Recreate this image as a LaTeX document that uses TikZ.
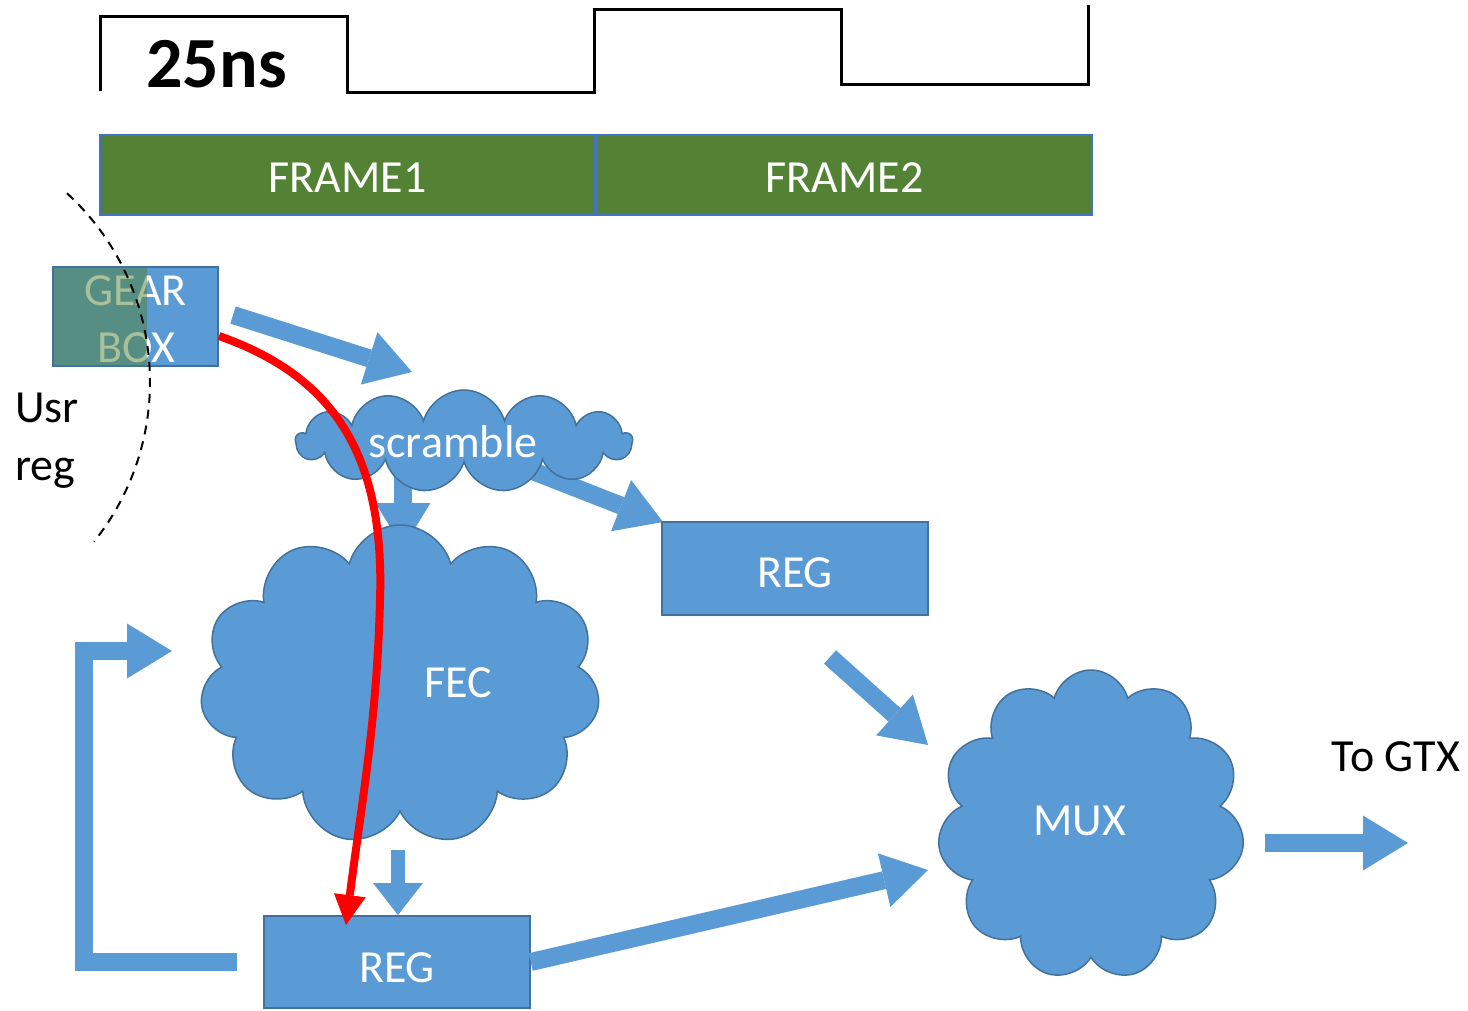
\documentclass[tikz,border=0pt]{standalone}
\usepackage{fontspec}
\setmainfont{Carlito}
\usetikzlibrary{arrows.meta,shapes.symbols}
\definecolor{blu}{HTML}{5B9BD5}
\definecolor{bdr}{HTML}{41719C}
\definecolor{grn}{HTML}{548235}
\definecolor{fbd}{HTML}{4472C4}
\tikzset{
  big/.style={font=\fontsize{46}{57}\selectfont},
  wtxt/.style={big, text=white, inner sep=0pt, anchor=base},
  btxt/.style={big, text=black, inner sep=0pt, anchor=base},
  framebox/.style={fill=grn, draw=fbd, line width=1.5pt, minimum height=80pt, minimum width=495pt, inner sep=0pt},
  regbox/.style={fill=blu, draw=bdr, line width=1.5pt, inner sep=0pt},
  cloudy/.style={cloud, fill=blu, draw=bdr, line width=1.5pt, inner sep=0pt},
  flow/.style={draw=blu, line width=18pt, -{Triangle[length=45pt,width=55pt,line width=0pt]}},
  clk/.style={draw=black, line width=3pt, line join=miter},
  redflow/.style={draw=red, line width=8pt, -{Triangle[length=30pt,width=32pt,line width=0pt]}},
}
\begin{document}
\begin{tikzpicture}[x=1pt,y=-1pt]
\useasboundingbox (0,0) rectangle (1468,1010);
% clock
\draw[clk] (100,91) -- (100,16) -- (347,16) -- (347,92) -- (594,92) -- (594,9) -- (841,9) -- (841,84) -- (1088,84) -- (1088,5);
\node[anchor=base, inner sep=0pt, font=\fontsize{72}{80}\selectfont\bfseries] (ns) at (216.5,87) {25ns};
% frames
\node[framebox] (fr1) at (347.5,175) {};
\node[framebox] (fr2) at (844.5,175) {};
\node[wtxt] (fr1t) at (347.5,192) {FRAME1};
\node[wtxt] (fr2t) at (844.5,192) {FRAME2};
% coordinates for arrows
\coordinate (a1s) at (233,315);
\coordinate (a1e) at (412,372);
\coordinate (a2s) at (403,470);
\coordinate (a2e) at (403,548);
\coordinate (a3s) at (530,470);
\coordinate (a3e) at (663,522);
\coordinate (a4s) at (830,657);
\coordinate (a4e) at (928,745);
\coordinate (a5s) at (398,850);
\coordinate (a5e) at (398,915);
\coordinate (a6e) at (928,870);
\coordinate (a7s) at (237,962);
\coordinate (a7a) at (84,962);
\coordinate (a7b) at (84,651);
\coordinate (a7e) at (172,651);
\coordinate (a8s) at (1265,843);
\coordinate (a8e) at (1408,843);
% flow arrows (behind clouds)
\draw[flow] (a1s) -- (a1e);
\draw[flow] (a2s) -- (a2e);
\draw[flow] (a3s) -- (a3e);
\draw[flow] (a4s) -- (a4e);
\draw[flow, line width=14pt, -{Triangle[length=32pt,width=50pt,line width=0pt]}] (a5s) -- (a5e);
\draw[flow, line join=miter] (a7s) -- (a7a) -- (a7b) -- (a7e);
\draw[flow] (a8s) -- (a8e);
% boxes
\node[regbox, minimum width=165pt, minimum height=99pt] (gb) at (135.5,316.5) {};
\node[wtxt] (gbt1) at (135.5,305) {GEAR};
\node[wtxt] (gbt2) at (136,362) {BOX};
\node[fill=grn, opacity=0.5, minimum width=94pt, minimum height=99pt, anchor=north west, inner sep=0pt] (ov) at (53,267) {};
\node[regbox, minimum width=266pt, minimum height=93pt] (reg1) at (795,568.5) {};
\node[wtxt] (reg1t) at (795,587) {REG};
\node[regbox, minimum width=266pt, minimum height=92pt] (reg2) at (397,962) {};
\node[wtxt] (reg2t) at (397,982) {REG};
\draw[flow] (reg2.east) -- (a6e);
% clouds
\node[cloudy, cloud puffs=13, aspect=3.3, minimum width=336pt, minimum height=102pt] (scr) at (464,441) {};
\node[wtxt] (scrt) at (453,457) {scramble};
\node[cloudy, cloud puffs=11, aspect=1.25, minimum width=400pt, minimum height=320pt] (fec) at (400,685) {};
\node[wtxt] (fect) at (458,697) {FEC};
\node[cloudy, cloud puffs=11, aspect=1, minimum width=307pt, minimum height=310pt] (mux) at (1091,825) {};
\node[wtxt] (muxt) at (1080,835) {MUX};
% texts
\node[btxt] (gtx) at (1396,771) {To GTX};
\node[btxt, anchor=base west] (usr) at (15,422) {Usr};
\node[btxt, anchor=base west] (reg) at (15,480) {reg};
% red path
\coordinate (rs) at (219,336);
\coordinate (rm) at (380,600);
\coordinate (re) at (346,925);
\draw[redflow] (rs) .. controls (330,375) and (385,450) .. (rm) .. controls (377,720) and (362,800) .. (re);
% dashed boundary
\draw[black, line width=2pt, dash pattern=on 9pt off 7pt] (-106,382) ++(-47.5:256) arc[start angle=-47.5, end angle=38.6, radius=256];
\end{tikzpicture}
\end{document}
